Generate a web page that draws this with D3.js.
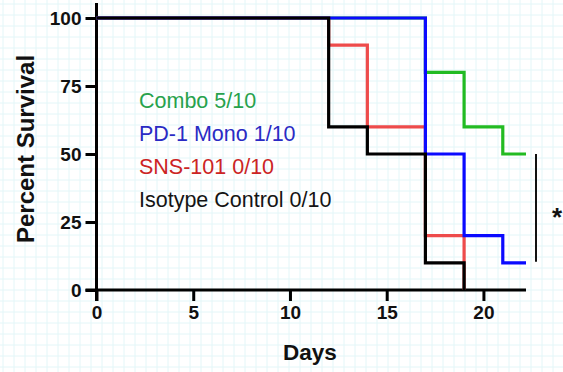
<!DOCTYPE html>
<html>
<head>
<meta charset="utf-8">
<script src="https://cdn.jsdelivr.net/npm/d3@7"></script>
<style>
  html, body { margin: 0; padding: 0; background: #fff; }
  svg { display: block; }
</style>
</head>
<body>
<svg id="chart"></svg>
<script>
// survival steps: [day, percent]
const combo = [[0, 100], [17, 80], [19, 60], [21, 50], [22.2, 50]];
const pd1Mono = [[0, 100], [17, 50], [19, 20], [21, 10], [22.2, 10]];
const sns101 = [[0, 100], [12, 90], [14, 60], [17, 20], [19, 0]];
const isotype = [[0, 100], [12, 60], [14, 50], [17, 10], [19, 0]];

const groups = ["Combo 5/10", "PD-1 Mono 1/10", "SNS-101 0/10", "Isotype Control 0/10"];
const xTicks = [0, 5, 10, 15, 20];
const yTicks = [0, 25, 50, 75, 100];

const width = 563, height = 372;
const margin = { top: 18, right: 37, bottom: 82, left: 96.5 };

const svg = d3.select("#chart")
  .attr("width", width)
  .attr("height", height)
  .style("font-family", "Liberation Sans, Arial, sans-serif");

// graph paper background
const bg = svg.append("g");
for (let x = 3; x < width; x += 11) {
  bg.append("line").attr("x1", x).attr("x2", x).attr("y1", 0).attr("y2", height)
    .attr("stroke", "#e3f6f8").attr("stroke-width", 1);
}
for (let y = 4; y < height; y += 11) {
  bg.append("line").attr("y1", y).attr("y2", y).attr("x1", 0).attr("x2", width)
    .attr("stroke", "#e3f6f8").attr("stroke-width", 1);
}

const x = d3.scaleLinear().domain([0, 22.2]).range([margin.left, width - margin.right]);
const y = d3.scaleLinear().domain([0, 100]).range([height - margin.bottom, margin.top]);

// x axis
const xAxis = svg.append("g")
  .attr("transform", `translate(0, ${y(0)})`)
  .call(d3.axisBottom(x).tickValues(xTicks).tickSize(11).tickPadding(5).tickSizeOuter(0));
xAxis.select(".domain").attr("stroke", "#000").attr("stroke-width", 3)
  .attr("d", `M${margin.left - 11},0H${x(22.2)}`);
xAxis.selectAll(".tick line").attr("stroke", "#000").attr("stroke-width", 3);
xAxis.selectAll(".tick text").attr("fill", "#111").style("font-size", "19px").style("font-weight", "bold");

// y axis
const yAxis = svg.append("g")
  .attr("transform", `translate(${margin.left}, 0)`)
  .call(d3.axisLeft(y).tickValues(yTicks).tickSize(11).tickPadding(4).tickSizeOuter(0));
yAxis.select(".domain").attr("stroke", "#000").attr("stroke-width", 3)
  .attr("d", `M0,${y(0) + 11}V3`);
yAxis.selectAll(".tick line").attr("stroke", "#000").attr("stroke-width", 3);
yAxis.selectAll(".tick text").attr("fill", "#111").style("font-size", "19px").style("font-weight", "bold");

// axis titles
svg.append("text")
  .attr("x", 310)
  .attr("y", 360)
  .attr("text-anchor", "middle")
  .style("font-size", "22.5px").style("font-weight", "bold")
  .attr("fill", "#111")
  .text("Days");

svg.append("text")
  .attr("transform", "translate(34, 149) rotate(-90)")
  .attr("text-anchor", "middle")
  .style("font-size", "24px").style("font-weight", "bold")
  .attr("fill", "#111")
  .text("Percent Survival");

// step curves, drawn bottom to top
const line = d3.line()
  .x((d) => x(d[0]))
  .y((d) => y(d[1]))
  .curve(d3.curveStepAfter);

const series = [
  { values: combo, color: "#22bb22" },
  { values: sns101, color: "#ee4b4b" },
  { values: pd1Mono, color: "#0a0aff" },
  { values: isotype, color: "#000000" },
];

svg.append("g")
  .selectAll("path")
  .data(series)
  .join("path")
  .attr("fill", "none")
  .attr("stroke", (d) => d.color)
  .attr("stroke-width", 3.2)
  .attr("stroke-linejoin", "miter")
  .attr("d", (d) => line(d.values));

// legend text
const legendColors = ["#27a24c", "#2a2ac4", "#cc2424", "#141414"];
svg.append("g")
  .selectAll("text")
  .data(groups)
  .join("text")
  .attr("x", 139)
  .attr("y", (d, i) => 108 + i * 33)
  .attr("fill", (d, i) => legendColors[i])
  .style("font-size", "21.5px")
  .text((d) => d);

// significance bar
svg.append("line")
  .attr("x1", 536).attr("x2", 536)
  .attr("y1", y(50)).attr("y2", y(10) - 1)
  .attr("stroke", "#111").attr("stroke-width", 2);

svg.append("text")
  .attr("x", 557).attr("y", 226)
  .attr("text-anchor", "middle")
  .style("font-size", "26px").style("font-weight", "bold")
  .attr("fill", "#111")
  .text("*");
</script>
</body>
</html>
